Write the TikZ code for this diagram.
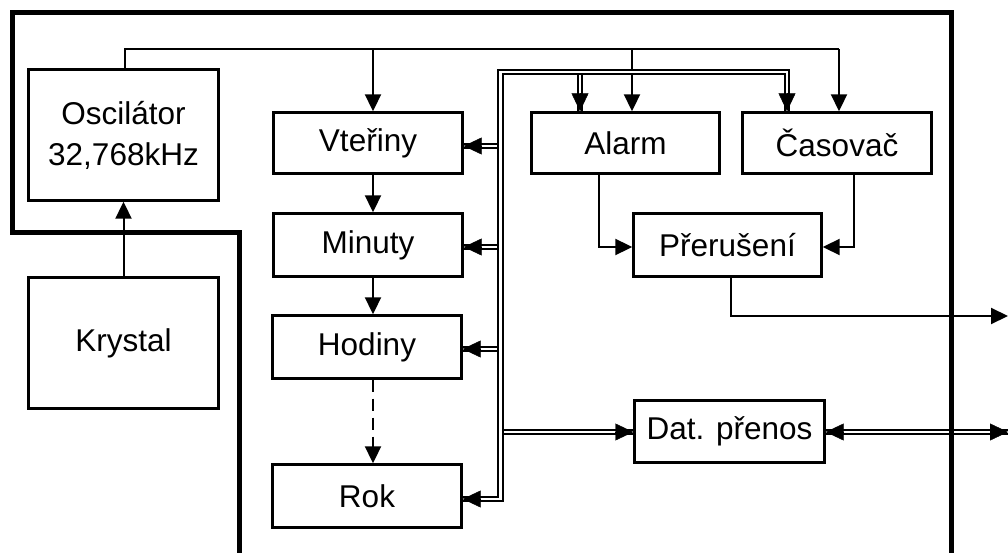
\documentclass[tikz,border=0pt]{standalone}
\usepackage{fontspec}
\setmainfont{Liberation Sans}
\usetikzlibrary{arrows.meta,calc}
\begin{document}
\begin{tikzpicture}[x=1pt,y=-1pt,
  blk/.style={draw,line width=2.4pt,rectangle,inner sep=0pt,align=center,
    font=\fontsize{31.5}{41}\selectfont},
  sig/.style={line width=2pt,-{Triangle[length=17pt,width=16pt]}},
  bus/.style={double,double distance=2.6pt,line width=1.9pt},
  frame/.style={line width=5pt,miter limit=10}]
% solid tip at the end of a double line, pointing from #1 to #2
\newcommand\solidtip[2]{\draw[line width=0.4pt,-{Triangle[length=18pt,width=17pt]}] ($(#2)!1pt!(#1)$) -- (#2);}
\useasboundingbox (0,0) rectangle (1008,553);

% blocks
\node[blk,minimum width=190pt,minimum height=131pt] (osc) at (123.5,135) {Oscilátor\\32,768kHz};
\node[blk,minimum width=190pt,minimum height=131pt] (kry) at (123.5,343) {Krystal};
\node[blk,minimum width=189pt,minimum height=61pt] (vte) at (368,143) {Vteřiny};
\node[blk,minimum width=189pt,minimum height=63pt] (min) at (368,245) {Minuty};
\node[blk,minimum width=189pt,minimum height=63pt] (hod) at (367,347) {Hodiny};
\node[blk,minimum width=189pt,minimum height=63pt] (rok) at (367,496) {Rok};
\node[blk,minimum width=188pt,minimum height=61pt] (ala) at (625.5,143) {Alarm};
\node[blk,minimum width=189pt,minimum height=61pt] (cas) at (837,143) {Časovač};
\node[blk,minimum width=188pt,minimum height=63pt] (pre) at (727.5,245) {Přerušení};
\node[blk,minimum width=190pt,minimum height=62pt] (dat) at (729.5,431.5) {Dat. přenos};

% reference points
\coordinate (clk) at (125,49);
\coordinate (cnt) at (373,0);
\coordinate (out) at (1008,0);

% crystal to oscillator
\draw[sig] (kry.north -| osc.south) -- (osc.south);

% clock distribution
\draw[line width=2pt] (osc.north -| clk) -- (clk) -- (839,49);
\draw[sig] (cnt |- clk) -- (vte.north -| cnt);
\draw[sig] (632,49) -- (ala.north -| 632,0);
\draw[sig] (839,49) -- (cas.north -| 839,0);

% counter chain
\draw[sig] (vte.south -| cnt) -- (min.north -| cnt);
\draw[sig] (min.south -| cnt) -- (hod.north -| cnt);
\draw[sig,dash pattern=on 12pt off 7pt] (hod.south -| cnt) -- (rok.north -| cnt);

% interrupt logic
\draw[sig] (ala.south -| 599,0) |- (pre.west |- 0,247);
\draw[sig] (cas.south -| 854,0) |- (pre.east |- 0,247);
\draw[sig] (pre.south -| 731,0) |- (out |- 0,316);

% internal data bus: end points
\coordinate (bv) at (498.5,146);  \coordinate (tv) at (vte.east |- 0,146);
\coordinate (bm) at (498.5,247);  \coordinate (tm) at (min.east |- 0,247);
\coordinate (bh) at (498.5,349);  \coordinate (th) at (hod.east |- 0,349);
\coordinate (ba) at (580,74.5);   \coordinate (ta) at (ala.north -| 580,0);
\coordinate (bd) at (502.5,432);  \coordinate (td) at (dat.west |- 0,432);
\coordinate (ed) at (dat.east |- 0,432); \coordinate (eo) at (out |- 0,432);
\coordinate (tr) at (rok.east |- 0,499); \coordinate (br) at (500.5,499);
\coordinate (bc) at (787,72);     \coordinate (tc) at (cas.north -| 787,0);

\draw[bus] (bv) -- (tv);
\draw[bus] (bm) -- (tm);
\draw[bus] (bh) -- (th);
\draw[bus] (ba) -- (ta);
\draw[bus] (bd) -- (td);
\draw[bus] (ed) -- (eo);
\draw[bus] (tr) -- (br) -- (500.5,72) -- (bc) -- (tc);

\solidtip{bv}{tv}
\solidtip{bm}{tm}
\solidtip{bh}{th}
\solidtip{ba}{ta}
\solidtip{bd}{td}
\solidtip{eo}{ed}
\solidtip{ed}{eo}
\solidtip{br}{tr}
\solidtip{bc}{tc}

% chip outline
\draw[frame] (239,553) -- (239,233) -- (12,233) -- (12,13) -- (951,13) -- (951,553);
\end{tikzpicture}
\end{document}
